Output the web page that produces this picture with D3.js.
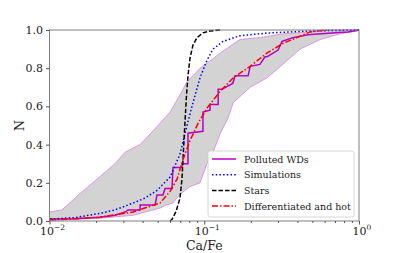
<!DOCTYPE html>
<html><head><meta charset="utf-8">
<script src="https://cdn.jsdelivr.net/npm/d3@7"></script>
<style>body{margin:0;background:#fff}svg{display:block}svg text{font-family:'DejaVu Serif','Liberation Serif','Times New Roman',serif !important;fill:#222}</style>
</head><body><div id="chart"></div>
<script>
// Grey band (range of simulations)
const bandUpperX = [0.01007,0.01204,0.01507,0.01968,0.0265,0.0308,0.0385,0.0503,0.0601,0.0697,0.0774,0.0846,0.0939,0.114,0.127,0.170,0.229,0.323,0.482,0.679,1.0];
const bandUpperN = [0.047,0.058,0.13,0.21,0.30,0.36,0.40,0.50,0.57,0.66,0.73,0.76,0.80,0.85,0.88,0.95,0.96,0.98,0.99,1.0,1.0];
const bandLowerX = [0.01007,0.0212,0.0347,0.0518,0.0574,0.0628,0.0697,0.0808,0.0939,0.104,0.114,0.127,0.141,0.154,0.198,0.255,0.343,0.416,0.560,0.754,0.971,1.0];
const bandLowerN = [0.003,0.015,0.03,0.068,0.085,0.094,0.14,0.18,0.20,0.30,0.36,0.46,0.53,0.62,0.70,0.75,0.84,0.90,0.95,0.98,0.995,1.0];
// Polluted WDs
const wdX = [0.01007,0.01462,0.0212,0.0265,0.0308,0.0322,0.0385,0.0385,0.0481,0.0495,0.0541,0.0558,0.0619,0.0628,0.0718,0.0718,0.0785,0.0785,0.0981,0.0981,0.109,0.109,0.123,0.123,0.130,0.153,0.158,0.192,0.198,0.229,0.247,0.255,0.300,0.318,0.374,0.468,0.700,0.849,1.0];
const wdN = [0.01,0.012,0.02,0.03,0.047,0.058,0.058,0.084,0.084,0.136,0.136,0.17,0.17,0.28,0.28,0.30,0.30,0.46,0.47,0.57,0.58,0.61,0.61,0.69,0.69,0.72,0.76,0.76,0.81,0.82,0.86,0.86,0.895,0.94,0.96,0.975,0.985,0.99,1.0];
// Simulations
const simX = [0.0101,0.01462,0.0212,0.0265,0.0347,0.0414,0.0495,0.0601,0.0697,0.0774,0.0846,0.0939,0.104,0.114,0.132,0.170,0.255,0.482,1.0];
const simN = [0.01,0.018,0.04,0.058,0.094,0.12,0.16,0.23,0.35,0.50,0.62,0.75,0.84,0.90,0.94,0.97,0.984,0.995,1.0];
// Stars
const starX = [0.0601,0.0621,0.0657,0.0697,0.0718,0.0734,0.0751,0.0768,0.0785,0.0808,0.0845,0.0897,0.098,0.109,0.127];
const starN = [0.0,0.01,0.05,0.12,0.22,0.37,0.52,0.66,0.76,0.85,0.92,0.96,0.985,0.995,1.0];
// Differentiated and hot
const diffX = [0.0101,0.0212,0.0347,0.0385,0.0518,0.0601,0.0668,0.0727,0.0808,0.0910,0.104,0.127,0.154,0.198,0.255,0.323,0.397,0.482,0.62];
const diffN = [0.005,0.02,0.047,0.06,0.094,0.155,0.22,0.32,0.42,0.51,0.59,0.68,0.75,0.81,0.88,0.93,0.96,0.99,1.0];

const yTicks = [0.0,0.2,0.4,0.6,0.8,1.0];
const xTicks = [0.01,0.1,1];
const xTickExp = ["−2","−1","0"];
const legendLabels = ["Polluted WDs","Simulations","Stars","Differentiated and hot"];

const W=399,H=253;
const m={l:49.5,r:40,t:30,b:32};
const FONT="'DejaVu Serif','Liberation Serif','Times New Roman',serif";
const svg=d3.select("#chart").append("svg").attr("width",W).attr("height",H).attr("font-family",FONT);
const x=d3.scaleLog().domain([0.01,1]).range([m.l,W-m.r]);
const y=d3.scaleLinear().domain([0,1]).range([H-m.b,m.t]);
const xc=v=>x(Math.max(0.01,Math.min(1,v)));

// band
const up=bandUpperX.map((v,i)=>[v,bandUpperN[i]]);
const lo=bandLowerX.map((v,i)=>[v,bandLowerN[i]]);
const poly=up.concat(lo.slice().reverse());
const ln=d3.line().x(d=>xc(d[0])).y(d=>y(d[1]));
svg.append("path").attr("d",ln(poly)+"Z").attr("fill","#d3d3d3");
svg.append("path").attr("d",ln(up)).attr("fill","none").attr("stroke","#d58ee0").attr("stroke-width",0.9);
svg.append("path").attr("d",ln(lo)).attr("fill","none").attr("stroke","#d58ee0").attr("stroke-width",0.9);

const series=[
 {X:wdX,N:wdN,c:"#b800c4",dash:null},
 {X:simX,N:simN,c:"#0000ff",dash:"1.5,2.2"},
 {X:starX,N:starN,c:"#000",dash:"4.5,2"},
 {X:diffX,N:diffN,c:"#ff0000",dash:"6,2,1.5,2"}
];
svg.append("clipPath").attr("id","cp").append("rect").attr("x",m.l).attr("y",m.t-2).attr("width",W-m.r-m.l).attr("height",H-m.b-m.t+4);
series.forEach(s=>{
  svg.append("path").attr("d",ln(s.X.map((v,i)=>[v,s.N[i]]))).attr("fill","none")
   .attr("stroke",s.c).attr("stroke-width",1.5).attr("stroke-dasharray",s.dash).attr("clip-path","url(#cp)");
});

// frame
svg.append("rect").attr("x",m.l).attr("y",m.t).attr("width",W-m.r-m.l).attr("height",H-m.b-m.t)
 .attr("fill","none").attr("stroke","#7f7f7f").attr("stroke-width",1);

// y axis
const ya=svg.append("g").attr("transform",`translate(${m.l},0)`).call(d3.axisLeft(y).tickValues(yTicks).tickFormat(d3.format(".1f")).tickSize(3.5).tickPadding(3));
ya.attr("font-family",FONT);
ya.select(".domain").remove();
ya.selectAll("line").attr("stroke","#555");
ya.selectAll("text").attr("font-size",11).attr("fill","#222");

// x axis
const minor=[];
for(const d of [0.01,0.1]) for(let k=2;k<=9;k++) minor.push(d*k);
const xa=svg.append("g").attr("transform",`translate(0,${H-m.b})`).call(d3.axisBottom(x).tickValues(xTicks).tickFormat("").tickSize(3.5));
xa.select(".domain").remove();
xa.selectAll("line").attr("stroke","#555");
const xm=svg.append("g").attr("transform",`translate(0,${H-m.b})`).call(d3.axisBottom(x).tickValues(minor).tickFormat("").tickSize(2));
xm.select(".domain").remove();
xm.selectAll("line").attr("stroke","#555");
xTicks.forEach((v,i)=>{
  const t=svg.append("text").attr("x",x(v)+3).attr("y",H-m.b+13.5).attr("text-anchor","middle").attr("font-size",11);
  t.append("tspan").text("10");
  t.append("tspan").attr("dy",-4.5).attr("font-size",7.5).text(xTickExp[i]);
});

svg.append("text").attr("x",(m.l+W-m.r)/2).attr("y",250).attr("text-anchor","middle").attr("font-size",12.5).text("Ca/Fe");
svg.append("text").attr("transform",`translate(24,${(m.t+H-m.b)/2}) rotate(-90)`).attr("text-anchor","middle").attr("font-size",12.5).text("N");

// legend
const lg=svg.append("g");
lg.append("rect").attr("x",208).attr("y",151).attr("width",146).attr("height",66).attr("rx",2.5)
  .attr("fill","#fff").attr("fill-opacity",0.9).attr("stroke","#cccccc").attr("stroke-width",0.8);
legendLabels.forEach((lab,i)=>{
  const yy=159+i*15.7;
  lg.append("line").attr("x1",212).attr("x2",236).attr("y1",yy).attr("y2",yy)
    .attr("stroke",series[i].c).attr("stroke-width",1.5).attr("stroke-dasharray",series[i].dash);
  lg.append("text").attr("x",244).attr("y",yy+3.6).attr("font-size",9.5).text(lab);
});
</script></body></html>
